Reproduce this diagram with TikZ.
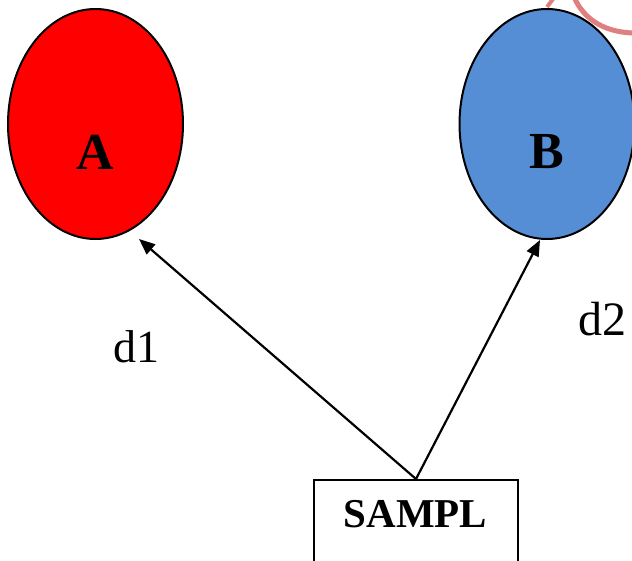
\documentclass[tikz,border=0pt]{standalone}
\usepackage{fontspec}
\setmainfont{Liberation Serif}
\usetikzlibrary{shapes.geometric,arrows.meta}
\definecolor{redfill}{HTML}{FF0000}
\definecolor{bluefill}{HTML}{558ED5}
\definecolor{pinkmark}{HTML}{E07F7F}
\tikzset{
  blob/.style={ellipse, draw=black, line width=2pt, minimum width=175pt, minimum height=230pt, inner sep=0pt},
  boxnode/.style={rectangle, draw=black, line width=2pt, minimum width=204pt, minimum height=130pt, inner sep=0pt, anchor=north},
  bigletter/.style={font=\bfseries\fontsize{52}{52}\selectfont, inner sep=0pt, anchor=base},
  boxtext/.style={font=\bfseries\fontsize{41}{41}\selectfont, inner sep=0pt, anchor=base},
  dlabel/.style={font=\fontsize{46}{46}\selectfont, inner sep=0pt, anchor=base},
  conn/.style={line width=2.2pt, -{Triangle[length=16pt,width=13pt]}}
}
\begin{document}
\begin{tikzpicture}[x=1pt,y=-1pt]
\useasboundingbox (0,0) rectangle (632,560);
% pink annotation mark
\draw[pinkmark, line width=5pt] (574,-3) .. controls (584,20) and (606,34) .. (640,33);
\draw[pinkmark, line width=4pt] (547,7) -- (553,-1);
% ellipses
\node[blob, fill=redfill] (A) at (95.5,124) {};
\node[blob, fill=bluefill] (B) at (547,124) {};
\node[bigletter] (lA) at (95,169) {A};
\node[bigletter] (lB) at (547,168) {B};
% box
\node[boxnode] (S) at (416,479) {};
\node[boxtext] (lS) at (415.5,527) {SAMPL};
% arrow tips
\coordinate (ta) at (139,239);
\coordinate (tb) at (540,240);
\draw[conn] (S.north) -- (ta);
\draw[conn] (S.north) -- (tb);
% labels
\node[dlabel] (d1) at (136,362) {d1};
\node[dlabel, font=\fontsize{48}{48}\selectfont] (d2) at (602,335) {d2};
\end{tikzpicture}
\end{document}
